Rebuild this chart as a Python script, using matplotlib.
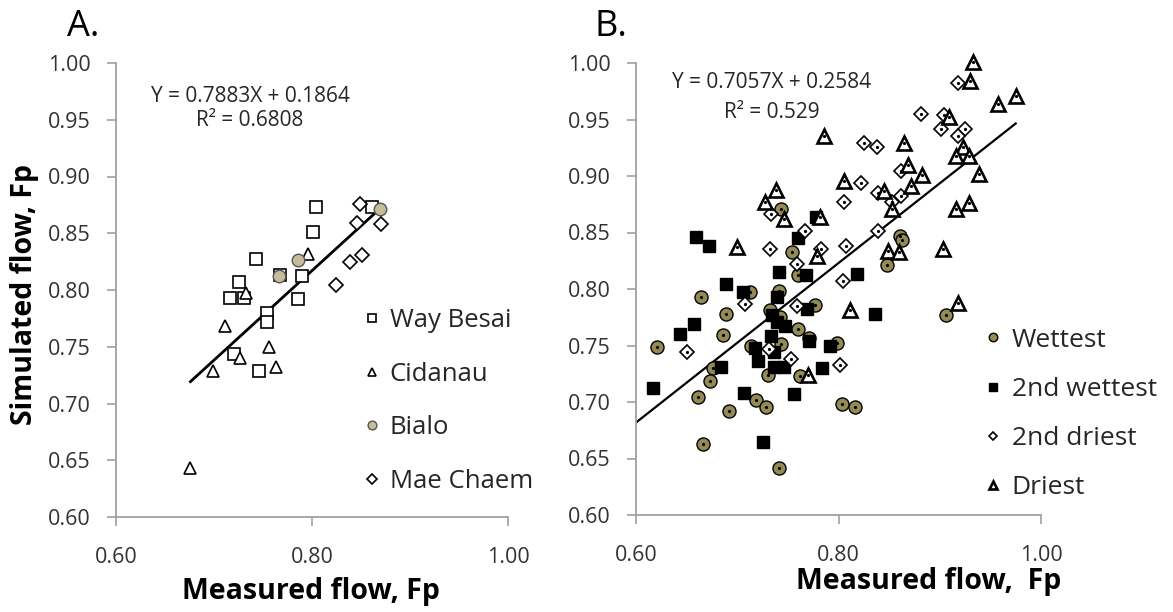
import matplotlib
matplotlib.use("Agg")
import matplotlib.pyplot as plt
import numpy as np

plt.rcParams['font.family'] = ['Open Sans', 'DejaVu Sans']

# ---------------- Panel A data ----------------
wb_x = [0.804, 0.801, 0.861, 0.743, 0.726, 0.767, 0.790, 0.716, 0.731, 0.786, 0.754, 0.754, 0.720, 0.746]
wb_y = [0.873, 0.851, 0.873, 0.827, 0.807, 0.813, 0.812, 0.793, 0.793, 0.792, 0.780, 0.772, 0.744, 0.729]
cd_x = [0.796, 0.733, 0.711, 0.756, 0.727, 0.763, 0.699, 0.676]
cd_y = [0.832, 0.797, 0.768, 0.750, 0.740, 0.732, 0.729, 0.643]
bi_x = [0.869, 0.786, 0.766]
bi_y = [0.871, 0.826, 0.812]
mc_x = [0.849, 0.846, 0.870, 0.851, 0.839, 0.825]
mc_y = [0.876, 0.859, 0.858, 0.831, 0.825, 0.804]
slope_a, icpt_a = 0.7883, 0.1864
eq_a = ["Y = 0.7883X + 0.1864", "R\u00b2 = 0.6808"]
labels_a = ["Way Besai", "Cidanau", "Bialo", "Mae Chaem"]

# ---------------- Panel B data ----------------
wet_x = [0.743, 0.754, 0.760, 0.713, 0.664, 0.741, 0.732, 0.777, 0.689, 0.686, 0.621, 0.714,
         0.743, 0.760, 0.771, 0.799, 0.762, 0.730, 0.676, 0.673, 0.661, 0.719, 0.728, 0.692,
         0.803, 0.816, 0.666, 0.741, 0.906, 0.861, 0.863, 0.848, 0.742]
wet_y = [0.871, 0.833, 0.812, 0.797, 0.793, 0.798, 0.781, 0.786, 0.778, 0.759, 0.749, 0.750,
         0.751, 0.765, 0.757, 0.752, 0.723, 0.724, 0.730, 0.719, 0.704, 0.702, 0.696, 0.692,
         0.698, 0.696, 0.663, 0.642, 0.777, 0.847, 0.843, 0.821, 0.775]
wet2_x = [0.778, 0.760, 0.659, 0.672, 0.768, 0.741, 0.689, 0.706, 0.739, 0.769, 0.657, 0.643,
          0.836, 0.718, 0.736, 0.720, 0.736, 0.746, 0.771, 0.792, 0.784, 0.684, 0.617, 0.707,
          0.756, 0.725, 0.818, 0.734, 0.739, 0.747, 0.733]
wet2_y = [0.864, 0.845, 0.846, 0.838, 0.812, 0.815, 0.804, 0.797, 0.793, 0.782, 0.769, 0.760,
          0.778, 0.748, 0.744, 0.736, 0.731, 0.731, 0.754, 0.750, 0.730, 0.731, 0.712, 0.708,
          0.707, 0.665, 0.813, 0.777, 0.771, 0.767, 0.758]
dry2_x = [0.733, 0.767, 0.732, 0.783, 0.759, 0.708, 0.759, 0.650, 0.731, 0.753, 0.801, 0.918,
          0.881, 0.904, 0.901, 0.925, 0.918, 0.825, 0.838, 0.862, 0.822, 0.805, 0.839, 0.862,
          0.853, 0.839, 0.807, 0.804]
dry2_y = [0.866, 0.851, 0.835, 0.835, 0.822, 0.787, 0.785, 0.744, 0.747, 0.738, 0.733, 0.982,
          0.955, 0.954, 0.942, 0.942, 0.935, 0.929, 0.926, 0.904, 0.894, 0.877, 0.885, 0.882,
          0.877, 0.851, 0.838, 0.807]
dry_x = [0.738, 0.727, 0.746, 0.782, 0.700, 0.779, 0.811, 0.770, 0.918, 0.933, 0.930, 0.958,
         0.975, 0.909, 0.923, 0.916, 0.929, 0.786, 0.865, 0.869, 0.882, 0.939, 0.805, 0.872,
         0.845, 0.853, 0.916, 0.929, 0.849, 0.860, 0.903]
dry_y = [0.888, 0.877, 0.862, 0.864, 0.837, 0.829, 0.781, 0.724, 0.788, 1.001, 0.984, 0.964,
         0.971, 0.952, 0.926, 0.918, 0.918, 0.935, 0.929, 0.910, 0.901, 0.902, 0.896, 0.891,
         0.887, 0.871, 0.871, 0.876, 0.834, 0.833, 0.835]
slope_b, icpt_b = 0.7057, 0.2584
eq_b = ["Y = 0.7057X + 0.2584", "R\u00b2 = 0.529"]
labels_b = ["Wettest", "2nd wettest", "2nd driest", "Driest"]

yticks = [0.60, 0.65, 0.70, 0.75, 0.80, 0.85, 0.90, 0.95, 1.00]
xticks = [0.60, 0.80, 1.00]

W, H = 1173, 612
fig = plt.figure(figsize=(W / 100, H / 100), dpi=100)

def fx(px):
    return px / W

def fy(py):
    return 1 - py / H

axA = fig.add_axes([fx(116), fy(517), (508 - 116) / W, (517 - 63) / H])
axB = fig.add_axes([fx(636), fy(515), (1041 - 636) / W, (515 - 63) / H])

TAN = '#C4BD97'
OLIVE = '#948A54'
GRAY = '#A0A0A0'
TXT = '#262626'

for ax in (axA, axB):
    ax.set_xlim(0.6, 1.0)
    ax.set_ylim(0.6, 1.0)
    ax.set_xticks(xticks)
    ax.set_yticks(yticks)
    ax.set_xticklabels([f"{v:.2f}" for v in xticks])
    ax.set_yticklabels([f"{v:.2f}" for v in yticks])
    for s in ('top', 'right'):
        ax.spines[s].set_visible(False)
    for s in ('left', 'bottom'):
        ax.spines[s].set_color(GRAY)
        ax.spines[s].set_linewidth(1.3)
    ax.tick_params(axis='both', direction='out', length=6.5, width=1.2, color=GRAY,
                   labelsize=15.5, labelcolor='#333333')
    ax.tick_params(axis='y', pad=12)
    ax.tick_params(axis='x', pad=15)
    ax.patch.set_alpha(0)

# ---------- Panel A ----------
hA = []
hA.append(axA.plot(wb_x, wb_y, 's', ms=8.6, mfc='white', mec='black', mew=1.2, ls='none', clip_on=False)[0])
hA.append(axA.plot(cd_x, cd_y, '^', ms=9.0, mfc='white', mec='black', mew=1.2, ls='none', clip_on=False)[0])
hA.append(axA.plot(bi_x, bi_y, 'o', ms=9.0, mfc=TAN, mec='#555555', mew=1.0, ls='none', clip_on=False)[0])
hA.append(axA.plot(mc_x, mc_y, 'D', ms=7.2, mfc='white', mec='black', mew=1.2, ls='none', clip_on=False)[0])
all_ax = np.array(wb_x + cd_x + bi_x + mc_x)
lx = np.array([all_ax.min(), all_ax.max()])
axA.plot(lx, slope_a * lx + icpt_a, color='black', lw=2.0, zorder=1)

# ---------- Panel B ----------
hB = []
hB.append(axB.plot(wet_x, wet_y, 'o', ms=9.4, mfc=OLIVE, mec='black', mew=1.0, ls='none', clip_on=False, zorder=3)[0])
hB.append(axB.plot(wet2_x, wet2_y, 's', ms=8.8, mfc='black', mec='black', mew=1.0, ls='none', clip_on=False, zorder=3)[0])
hB.append(axB.plot(dry2_x, dry2_y, 'D', ms=7.0, mfc='white', mec='black', mew=1.2, ls='none', clip_on=False, zorder=3)[0])
hB.append(axB.plot(dry_x, dry_y, '^', ms=9.4, mfc='white', mec='black', mew=1.9, ls='none', clip_on=False, zorder=3)[0])
for xs, ys in ((wet_x, wet_y), (dry2_x, dry2_y), (dry_x, dry_y)):
    axB.plot(xs, ys, 'o', ms=2.3, color='black', mew=0, ls='none', clip_on=False, zorder=4)
all_bx = np.array(wet_x + wet2_x + dry2_x + dry_x)
lxb = np.array([0.60, all_bx.max()])
axB.plot(lxb, slope_b * lxb + icpt_b, color='black', lw=1.6, zorder=2)

# ---------- Legends ----------
legA = fig.legend(hA, labels_a, loc='center left', bbox_to_anchor=(fx(359), fy(401)),
                  frameon=False, fontsize=18.5, markerscale=0.7, handlelength=1.0,
                  handletextpad=0.2, labelspacing=1.12, borderpad=0, borderaxespad=0)
legB = fig.legend(hB, labels_b, loc='center left', bbox_to_anchor=(fx(980), fy(414)),
                  frameon=False, fontsize=19, markerscale=0.65, handlelength=1.0,
                  handletextpad=0.2, labelspacing=0.92, borderpad=0, borderaxespad=0)
for leg in (legA, legB):
    for t in leg.get_texts():
        t.set_color(TXT)

# ---------- Text ----------
fig.text(fx(250), fy(97), eq_a[0], ha='center', va='center', fontsize=15, color=TXT)
fig.text(fx(250), fy(121), eq_a[1], ha='center', va='center', fontsize=15, color=TXT)
fig.text(fx(772), fy(82), eq_b[0], ha='center', va='center', fontsize=15, color=TXT)
fig.text(fx(772), fy(112), eq_b[1], ha='center', va='center', fontsize=15, color=TXT)

fig.text(fx(67), fy(27), "A.", ha='left', va='center', fontsize=26, color='black')
fig.text(fx(594), fy(27), "B.", ha='left', va='center', fontsize=26, color='black')

fig.text(fx(311), fy(591), "Measured flow, Fp", ha='center', va='center', fontsize=20.5,
         fontweight='bold', color='black')
fig.text(fx(929), fy(582), "Measured flow,  Fp", ha='center', va='center', fontsize=20.5,
         fontweight='bold', color='black')
fig.text(fx(25), fy(294), "Simulated flow, Fp", ha='center', va='center', fontsize=20.5,
         fontweight='bold', rotation=90, color='black')

fig.savefig("out.png", dpi=100)
